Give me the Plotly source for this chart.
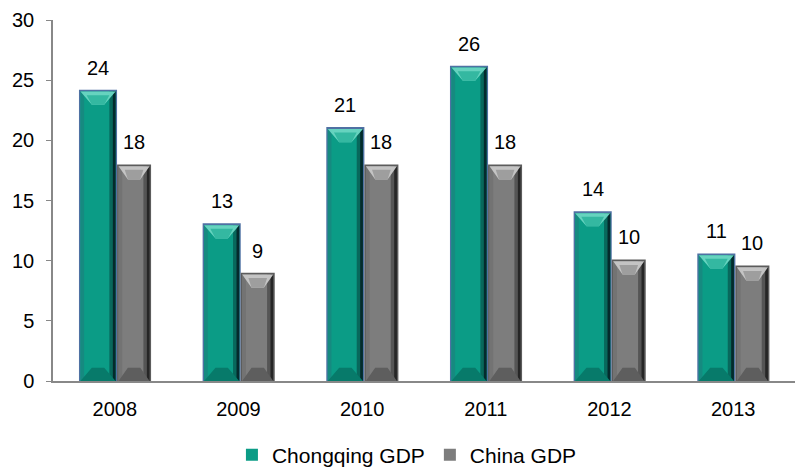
import plotly.graph_objects as go

# GDP growth (%) by year
years = ["2008", "2009", "2010", "2011", "2012", "2013"]
chongqing_gdp = [24.2, 13.1, 21.1, 26.2, 14.1, 10.6]
china_gdp = [18.0, 9.0, 18.0, 18.0, 10.1, 9.6]

series_names = ["Chongqing GDP", "China GDP"]

# bar footprint inside each category slot (x0, x1 relative to the slot centre)
SPANS = [(-0.29, 0.018), (0.018, 0.293)]

# colour sets for the bevelled bars
STYLES = [
    dict(edge="#4f71a3", body="#0b9c86", left="#168a80", right_mid="#08685c",
         right_dark="#042a2c", top_outer="#66d3bf", top_inner="#34b8a1",
         bottom="#077a6a"),
    dict(edge="#5c5c5c", body="#7d7d7d", left="#737373", right_mid="#555555",
         right_dark="#262626", top_outer="#c4c4c4", top_inner="#9e9e9e",
         bottom="#5e5e5e"),
]

FONT = "Liberation Sans, Arial"

fig = go.Figure()
xs = list(range(len(years)))

E = 0.012   # outline thickness in x units
T = 0.15    # outline thickness in y units


def add_bars(vals, x0, x1, color, name=None, legend=False):
    fig.add_trace(go.Bar(
        x=xs, y=vals, width=x1 - x0, offset=x0,
        marker=dict(color=color, line=dict(width=0)),
        name=name, showlegend=legend, hoverinfo=None if legend else "skip",
    ))


def add_polys(polys, color):
    px, py = [], []
    for poly in polys:
        for (a, b) in poly:
            px.append(a)
            py.append(b)
        px.append(poly[0][0])
        py.append(poly[0][1])
        px.append(None)
        py.append(None)
    fig.add_trace(go.Scatter(
        x=px, y=py, mode="lines", fill="toself", fillcolor=color,
        line=dict(width=0), showlegend=False, hoverinfo="skip",
    ))


for s, (vals, name) in enumerate(zip([chongqing_gdp, china_gdp], series_names)):
    st = STYLES[s]
    x0, x1 = SPANS[s]
    w = x1 - x0
    inner = [v - T for v in vals]
    # outline
    add_bars(vals, x0, x1, st["edge"])
    # body (legend entry)
    add_bars(inner, x0 + E, x1 - E, st["body"], name=name, legend=True)
    # left shading
    add_bars(inner, x0 + E, x0 + E + 0.03, st["left"])
    # right shading
    add_bars(inner, x1 - E - 0.05, x1 - E, st["right_mid"])
    add_bars(inner, x1 - E - 0.022, x1 - E, st["right_dark"])

    # top and bottom facets
    top_outer, top_inner, bottom = [], [], []
    for i, v in enumerate(inner):
        a, b = i + x0 + E, i + x1 - E
        c = i + x0 + w / 2
        h = 1.1
        half = 0.05
        top_outer.append([(a, v), (b, v), (c + half, v - h), (c - half, v - h)])
        top_inner.append([(a + 0.05, v - 0.3), (b - 0.05, v - 0.3),
                          (c + half, v - h), (c - half, v - h)])
        bottom.append([(a, 0), (b, 0), (c + half, h), (c - half, h)])
    add_polys(top_outer, st["top_outer"])
    add_polys(top_inner, st["top_inner"])
    add_polys(bottom, st["bottom"])

    # value labels above each bar
    for i, v in enumerate(vals):
        fig.add_annotation(
            x=i + x0 + w / 2, y=v, text=f"{v:.0f}", showarrow=False,
            yanchor="middle", yshift=22,
            font=dict(family=FONT, size=20, color="#000000"),
        )

fig.update_layout(
    width=795, height=467,
    margin=dict(l=53, r=0, t=20, b=86, autoexpand=False),
    paper_bgcolor="white", plot_bgcolor="white",
    barmode="overlay",
    font=dict(family=FONT, size=20, color="#000000"),
    showlegend=True,
    legend=dict(orientation="h", x=0.477, xanchor="center", y=-0.205,
                yanchor="middle", font=dict(family=FONT, size=21),
                itemwidth=30, traceorder="normal"),
    xaxis=dict(
        range=[-0.5, 5.5], tickmode="array", tickvals=xs, ticktext=years,
        showgrid=False, zeroline=False, showline=True, linecolor="#888888",
        linewidth=1.5, ticks="", ticklabelstandoff=9,
        tickfont=dict(family=FONT, size=20),
    ),
    yaxis=dict(
        range=[0, 30], dtick=5, showgrid=False, zeroline=False, showline=True,
        linecolor="#888888", linewidth=1.5, ticks="outside", ticklen=5,
        tickcolor="#888888", ticklabelstandoff=8,
        tickfont=dict(family=FONT, size=20),
    ),
)

fig.write_html("out.html")
